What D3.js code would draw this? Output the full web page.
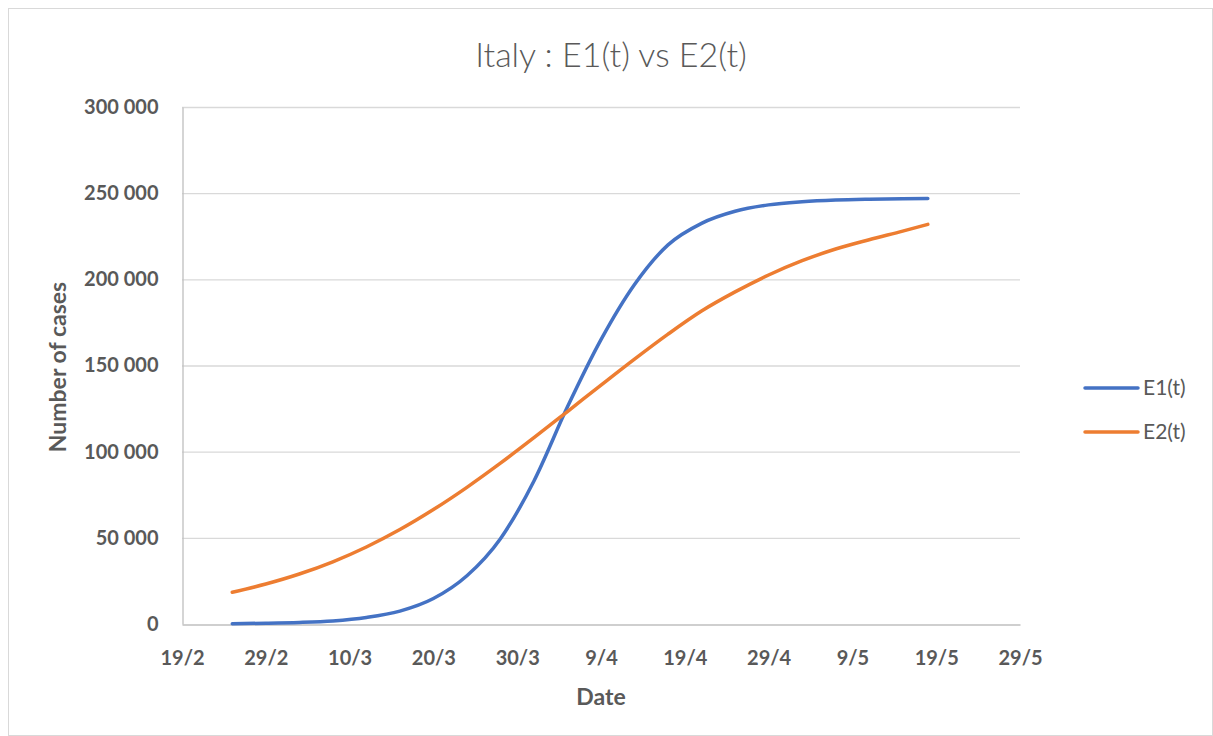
<!DOCTYPE html>
<html>
<head>
<meta charset="utf-8">
<script src="https://cdn.jsdelivr.net/npm/d3@7"></script>
<style>
  body { margin: 0; background: #fff; }
  text { font-family: Lato, "Open Sans", sans-serif; fill: #595959; }
</style>
</head>
<body>
<script>
var width = 1213;
var height = 736;

var dates = ["2020-02-25", "2020-02-29", "2020-03-04", "2020-03-08", "2020-03-12",
  "2020-03-16", "2020-03-20", "2020-03-24", "2020-03-28", "2020-04-01", "2020-04-05",
  "2020-04-09", "2020-04-13", "2020-04-17", "2020-04-21", "2020-04-25", "2020-04-29",
  "2020-05-03", "2020-05-07", "2020-05-11", "2020-05-15", "2020-05-18"];

var e1 = [200, 450, 900, 1800, 3800, 7500, 14800, 28000, 49500, 83000, 126000,
  165000, 197000, 220000, 232500, 239500, 243200, 245000, 246000, 246500, 246800, 246900];

var e2 = [18400, 23200, 29000, 36100, 44700, 54800, 66400, 79300, 93300, 108100, 123300,
  138600, 153700, 168200, 181600, 192700, 202500, 210800, 217600, 223000, 228000, 231900];

var tickDates = ["2020-02-19", "2020-02-29", "2020-03-10", "2020-03-20", "2020-03-30",
  "2020-04-09", "2020-04-19", "2020-04-29", "2020-05-09", "2020-05-19", "2020-05-29"];
var tickLabels = ["19/2", "29/2", "10/3", "20/3", "30/3", "9/4", "19/4", "29/4", "9/5", "19/5", "29/5"];

var yTicks = [0, 50000, 100000, 150000, 200000, 250000, 300000];

var seriesNames = ["E1(t)", "E2(t)"];
var colors = ["#4472C4", "#ED7D31"];

var parse = d3.utcParse("%Y-%m-%d");

var svg = d3.select("body").append("svg")
  .attr("width", width)
  .attr("height", height);

// chart frame
svg.append("rect")
  .attr("x", 8.5).attr("y", 8.5)
  .attr("width", width - 9).attr("height", height - 9)
  .attr("fill", "#fff")
  .attr("stroke", "#d9d9d9");

var x = d3.scaleUtc()
  .domain([parse(tickDates[0]), parse(tickDates[tickDates.length - 1])])
  .range([182, 1020]);

var y = d3.scaleLinear()
  .domain([0, 300000])
  .range([624, 107]);

var fmt = function(v) { return d3.format(",")(v).replace(/,/g, " "); };

// gridlines
svg.append("g")
  .selectAll("line")
  .data(yTicks.slice(1))
  .enter()
  .append("line")
  .attr("x1", 182).attr("x2", 1020)
  .attr("y1", function(d) { return y(d) + 0.5; })
  .attr("y2", function(d) { return y(d) + 0.5; })
  .attr("stroke", "#d9d9d9")
  .attr("stroke-width", 1.3);

// axes
var yAxis = svg.append("g")
  .attr("transform", "translate(182.5,0)")
  .call(d3.axisLeft(y).tickValues(yTicks).tickFormat(fmt).tickSize(0).tickPadding(24));

var xAxis = svg.append("g")
  .attr("transform", "translate(0,624.5)")
  .call(d3.axisBottom(x)
    .tickValues(tickDates.map(parse))
    .tickFormat(function(d, i) { return tickLabels[i]; })
    .tickSize(0).tickPadding(26));

[yAxis, xAxis].forEach(function(a) {
  a.select(".domain").attr("stroke", "#bfbfbf").attr("stroke-width", 1.3);
  a.selectAll("text")
    .style("font-size", "20px")
    .style("font-weight", "bold")
    .attr("fill", "#595959");
});

// lines
var line = d3.line()
  .x(function(d) { return x(d.date); })
  .y(function(d) { return y(d.value); })
  .curve(d3.curveMonotoneX);

[e1, e2].forEach(function(values, k) {
  var pts = values.map(function(v, i) { return {date: parse(dates[i]), value: v}; });
  svg.append("path")
    .datum(pts)
    .attr("fill", "none")
    .attr("stroke", colors[k])
    .attr("stroke-width", 3.5)
    .attr("stroke-linecap", "round")
    .attr("d", line);
});

// titles
svg.append("text")
  .attr("x", 611).attr("y", 67)
  .attr("text-anchor", "middle")
  .style("font-size", "34px")
  .style("font-weight", 300)
  .text("Italy : E1(t) vs E2(t)");

svg.append("text")
  .attr("transform", "translate(66,367) rotate(-90)")
  .attr("text-anchor", "middle")
  .style("font-size", "23px")
  .style("font-weight", "bold")
  .text("Number of cases");

svg.append("text")
  .attr("x", 601).attr("y", 705)
  .attr("text-anchor", "middle")
  .style("font-size", "23px")
  .style("font-weight", "bold")
  .text("Date");

// legend
var legend = svg.append("g")
  .selectAll("g")
  .data(seriesNames)
  .enter()
  .append("g")
  .attr("transform", function(d, i) { return "translate(1085," + (388 + i * 44) + ")"; });

legend.append("line")
  .attr("x1", 0).attr("x2", 53)
  .attr("stroke", function(d, i) { return colors[i]; })
  .attr("stroke-width", 3.5)
  .attr("stroke-linecap", "round");

legend.append("text")
  .attr("x", 58).attr("dy", "0.35em")
  .style("font-size", "21px")
  .text(function(d) { return d; });
</script>
</body>
</html>
